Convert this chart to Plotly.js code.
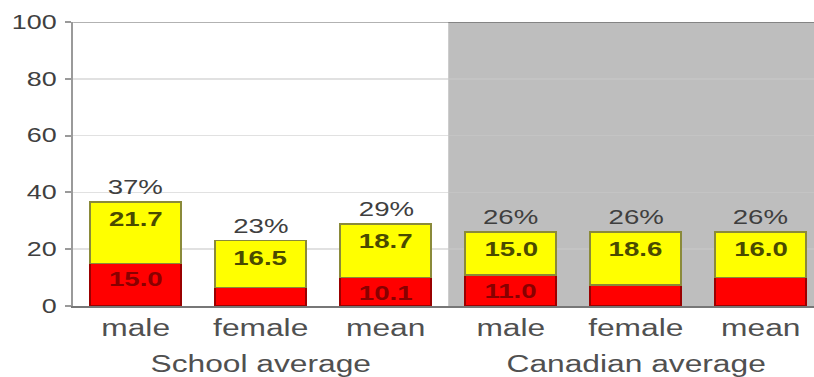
<!DOCTYPE html>
<html>
<head>
<meta charset="utf-8">
<script src="https://cdn.plot.ly/plotly-3.0.1.min.js"></script>
<style>
  html, body { margin: 0; padding: 0; background: #fff; overflow: hidden; }
  /* the chart is laid out narrow and widened, giving the broad lettering */
  #chart { width: 590px; height: 377px; transform: scaleX(1.38); transform-origin: 0 0; }
</style>
</head>
<body>
<div id="chart"></div>
<script>
// categories and their groups
const categories = ['male', 'female', 'mean', 'male', 'female', 'mean'];
const groups = ['School average', 'Canadian average'];
const groupOf = [0, 0, 0, 1, 1, 1];

// stacked segments (percent)
const redValues = [15.0, 6.5, 10.1, 11.0, 7.4, 10.0];
const yellowValues = [21.7, 16.5, 18.7, 15.0, 18.6, 16.0];
const showRedLabel = [true, false, true, true, false, false];

// y axis ticks
const yTicks = [0, 20, 40, 60, 80, 100];

const xs = categories.map((_, i) => i);
const totals = redValues.map((r, i) => r + yellowValues[i]);
const xEnd = 5.427;
const FONT = 'Liberation Sans, Arial, sans-serif';

const traces = [
  {
    type: 'bar', x: xs, y: redValues, width: 0.73,
    marker: { color: '#ff0000', line: { color: '#9a0000', width: 1.5 } },
    hoverinfo: 'skip'
  },
  {
    type: 'bar', x: xs, y: yellowValues, width: 0.73,
    marker: { color: '#ffff00', line: { color: '#8a8a3a', width: 1.5 } },
    hoverinfo: 'skip'
  }
];

const annotations = [];
xs.forEach((x, i) => {
  // total above each bar
  annotations.push({
    x: x, y: totals[i], xref: 'x', yref: 'y', yshift: 15,
    text: Math.round(totals[i]) + '%', showarrow: false,
    font: { family: FONT, size: 20, color: '#3f3f3f' }
  });
  // yellow segment value near its top
  annotations.push({
    x: x, y: totals[i], xref: 'x', yref: 'y', yshift: -17,
    text: yellowValues[i].toFixed(1), showarrow: false,
    font: { family: FONT, size: 20, color: '#4a4a00', weight: 'bold' }
  });
  // red segment value near its top
  if (showRedLabel[i]) {
    annotations.push({
      x: x, y: redValues[i], xref: 'x', yref: 'y', yshift: -16,
      text: redValues[i].toFixed(1), showarrow: false,
      font: { family: FONT, size: 20, color: '#880000', weight: 'bold' }
    });
  }
});
// group captions under the category labels
groups.forEach((g, gi) => {
  const members = xs.filter(i => groupOf[i] === gi);
  const mid = members.reduce((a, b) => a + b, 0) / members.length;
  annotations.push({
    x: mid, y: -0.205, xref: 'x', yref: 'paper', yanchor: 'middle',
    text: g, showarrow: false,
    font: { family: FONT, size: 23, color: '#505050' }
  });
});

const layout = {
  width: 590, height: 377,
  margin: { l: 53, r: 0, t: 22, b: 71 },
  paper_bgcolor: '#ffffff', plot_bgcolor: '#ffffff',
  barmode: 'stack',
  showlegend: false,
  font: { family: FONT },
  xaxis: {
    range: [-0.5, xEnd], tickvals: xs, ticktext: categories,
    showgrid: false, zeroline: false, ticks: '',
    showline: true, linecolor: '#777', linewidth: 2,
    tickfont: { family: FONT, size: 23, color: '#505050' },
    ticklabelstandoff: 0, fixedrange: true
  },
  yaxis: {
    range: [0, 100], tickvals: yTicks, ticktext: yTicks.map(String),
    showgrid: true, gridcolor: 'rgba(200,200,200,0.55)', gridwidth: 1.5,
    zeroline: false, showline: true, linecolor: '#9a9a9a', linewidth: 1.5,
    ticks: 'outside', ticklen: 4.5, tickwidth: 2, tickcolor: '#9a9a9a',
    tickfont: { family: FONT, size: 19.5, color: '#404040' },
    ticklabelstandoff: 2, fixedrange: true
  },
  shapes: [
    // shaded panel behind the national figures
    { type: 'rect', xref: 'x', yref: 'y', x0: 2.5, x1: xEnd, y0: 0, y1: 100,
      fillcolor: '#bebebe', line: { width: 0 }, layer: 'below' },
    // top frame line
    { type: 'line', xref: 'paper', yref: 'y', x0: 0, x1: 1, y0: 100, y1: 100,
      line: { color: 'rgba(0,0,0,0.3)', width: 2 }, layer: 'above' }
  ],
  annotations: annotations
};

Plotly.newPlot('chart', traces, layout, { staticPlot: true, displayModeBar: false });
</script>
</body>
</html>
